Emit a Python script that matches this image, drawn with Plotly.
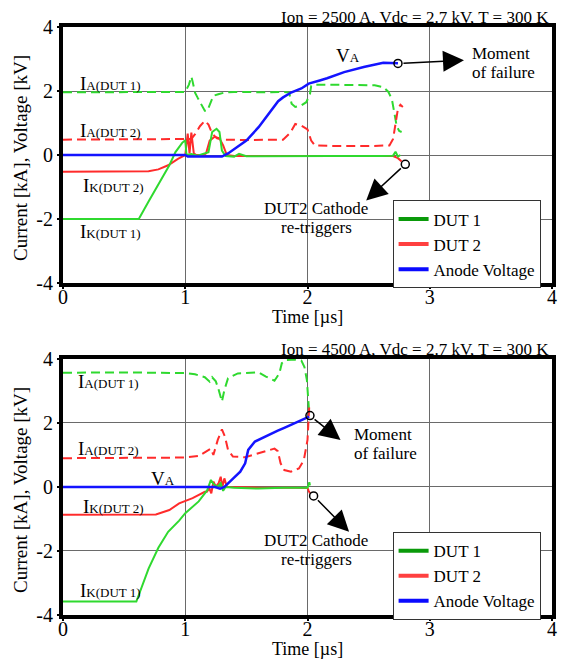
import plotly.graph_objects as go

# ---------------- data: top panel (Ion = 2500 A) ----------------
t_ia1_x = [0, 0.3, 0.6, 0.9, 1.0, 1.03, 1.05, 1.06, 1.08, 1.1, 1.13, 1.16, 1.18, 1.2, 1.23, 1.27, 1.32, 1.4, 1.5,
           1.6, 1.7, 1.8, 1.85, 1.87, 1.9, 1.95, 1.99, 2.02, 2.03, 2.05, 2.2, 2.4, 2.55, 2.62, 2.66, 2.69, 2.71,
           2.73, 2.75, 2.77]
t_ia1_y = [1.96, 1.97, 1.96, 1.97, 1.97, 2.2, 2.45, 2.3, 1.95, 1.8, 1.6, 1.38, 1.38, 1.55, 1.85, 1.9, 1.95, 1.97,
           1.96, 1.97, 1.96, 1.97, 1.95, 1.6, 1.5, 1.55, 1.65, 1.9, 2.15, 2.2, 2.2, 2.2, 2.18, 2.12, 1.98, 1.75,
           1.3, 0.9, 0.75, 0.72]

t_ia2_x = [0, 0.5, 1.0, 1.05, 1.08, 1.12, 1.16, 1.19, 1.22, 1.26, 1.3, 1.5, 1.8, 1.86, 1.9, 1.95, 2.0, 2.03,
           2.06, 2.2, 2.5, 2.67, 2.7, 2.72, 2.74, 2.76, 2.78]
t_ia2_y = [0.48, 0.48, 0.48, 0.5, 0.65, 0.9, 1.07, 0.95, 0.67, 0.52, 0.48, 0.47, 0.48, 0.7, 0.97, 0.92, 0.8,
           0.45, 0.3, 0.28, 0.28, 0.3, 0.5, 1.0, 1.45, 1.57, 1.5]

t_ik2_x = [0, 0.4, 0.7, 0.78, 0.86, 0.94, 1.0, 1.02, 1.035, 1.05, 1.07, 1.09, 1.15, 1.17, 1.2, 1.24, 1.28, 1.31,
           1.34, 1.4, 1.8, 2.2, 2.6, 2.7, 2.74, 2.77]
t_ik2_y = [-0.52, -0.52, -0.51, -0.45, -0.32, -0.12, 0.0, 0.67, 0.05, 0.7, 0.05, 0.0, 0.0, 0.05, 0.45, 0.57,
           0.52, 0.3, 0.0, -0.03, -0.03, -0.03, -0.03, -0.03, -0.1, -0.2]

t_ik1_x = [0, 0.3, 0.62, 0.7, 0.79, 0.87, 0.92, 0.975, 1.0, 1.01, 1.05, 1.1, 1.19, 1.22, 1.256, 1.28, 1.3, 1.33,
           1.4, 1.44, 1.5, 1.8, 2.2, 2.6, 2.7, 2.72, 2.74, 2.76]
t_ik1_y = [-2.0, -2.0, -2.0, -1.45, -0.84, -0.32, 0.09, 0.38, 0.46, 0.0, 0.03, -0.02, 0.09, 0.72, 0.82, 0.72,
           0.14, -0.03, -0.05, 0.04, -0.04, -0.03, -0.03, -0.03, -0.02, 0.1, -0.05, 0.0]

t_va_x = [0, 1.0, 1.02, 1.3, 1.35, 1.41, 1.5, 1.6, 1.7, 1.76, 1.8, 1.87, 1.95, 2.01, 2.1, 2.16, 2.3, 2.46, 2.62,
          2.71, 2.74]
t_va_y = [0, 0, -0.05, -0.05, 0.05, 0.2, 0.45, 0.87, 1.38, 1.68, 1.8, 1.96, 2.08, 2.23, 2.33, 2.4, 2.59, 2.75,
          2.88, 2.89, 2.87]

t_mark_x = [2.74, 2.80]
t_mark_y = [2.86, -0.29]
t_head_x = [3.28, 2.48]
t_head_y = [2.96, -1.42]

# ---------------- data: bottom panel (Ion = 4500 A) ----------------
b_ia1_x = [0, 0.5, 1.0, 1.08, 1.16, 1.2, 1.22, 1.25, 1.27, 1.3, 1.32, 1.35, 1.43, 1.6, 1.66, 1.73, 1.77, 1.79,
           1.825, 1.9, 1.95, 1.975, 1.995, 2.008, 2.015]
b_ia1_y = [3.57, 3.58, 3.56, 3.52, 3.43, 3.29, 3.43, 3.3, 3.08, 2.67, 3.03, 3.4, 3.55, 3.58, 3.45, 3.32, 3.55,
           3.87, 3.97, 3.98, 3.95, 3.75, 3.34, 2.72, 2.25]

b_ia2_x = [0, 0.5, 1.0, 1.11, 1.19, 1.21, 1.23, 1.266, 1.3, 1.325, 1.35, 1.39, 1.49, 1.6, 1.73, 1.757, 1.78,
           1.81, 1.865, 1.93, 1.97, 2.0, 2.008, 2.014]
b_ia2_y = [0.9, 0.9, 0.92, 0.97, 1.16, 1.2, 1.0, 1.47, 1.8, 1.57, 1.16, 0.95, 0.93, 1.05, 1.2, 1.12, 0.74, 0.53,
           0.48, 0.58, 0.84, 1.47, 2.1, 2.5]

b_ik2_x = [0, 0.4, 0.76, 0.87, 0.95, 1.06, 1.16, 1.177, 1.197, 1.213, 1.231, 1.25, 1.272, 1.29, 1.304, 1.32,
           1.34, 1.36, 1.6, 1.9, 2.0, 2.01, 2.02]
b_ik2_y = [-0.87, -0.87, -0.86, -0.72, -0.51, -0.35, -0.15, -0.15, -0.04, -0.2, 0.17, 0.01, 0.11, 0.32, 0.01,
           0.27, 0.01, 0.0, -0.02, -0.02, -0.03, -0.12, -0.2]

b_ik1_x = [0, 0.3, 0.6, 0.7, 0.78, 0.86, 0.95, 1.0, 1.11, 1.18, 1.21, 1.23, 1.26, 1.29, 1.31, 1.33, 1.4, 1.6,
           1.8, 2.0, 2.015, 2.02]
b_ik1_y = [-3.58, -3.58, -3.58, -2.55, -1.9, -1.4, -1.05, -0.82, -0.45, -0.1, 0.22, 0.1, 0.0, 0.12, -0.12, 0.0,
           -0.02, -0.05, -0.02, -0.02, 0.15, 0.05]

b_va_x = [0, 1.0, 1.245, 1.285, 1.32, 1.38, 1.45, 1.49, 1.515, 1.57, 1.68, 1.757, 1.81, 1.89, 1.97, 2.014]
b_va_y = [0, 0, 0, -0.05, 0.0, 0.22, 0.48, 0.74, 1.16, 1.42, 1.63, 1.76, 1.85, 1.99, 2.12, 2.2]

b_mark_x = [2.02, 2.05]
b_mark_y = [2.23, -0.28]
b_head_x = [2.27, 2.34]
b_head_y = [1.47, -1.40]

x_ticks = [0, 1, 2, 3, 4]
x_tick_text = ["0", "1", "2", "3", "4"]
y_ticks = [-4, -2, 0, 2, 4]
y_tick_text = ["-4", "-2", "0", "2", "4"]
titles = ["Ion = 2500 A, Vdc = 2.7 kV, T = 300 K", "Ion = 4500 A, Vdc = 2.7 kV, T = 300 K"]
legend_names = ["DUT 1", "DUT 2", "Anode Voltage"]

# ---------------- styling ----------------
FONT = "Liberation Serif, Times New Roman, serif"
GREEN = "#2fd92f"
RED = "#ff2b2b"
BLUE = "#1414ff"
LEG_COLORS = ["#0a9a0a", "#ff4040", "#0a0aff"]
DASH = "9px,5px"

fig = go.Figure()


def add_panel(xa, ya, ia1, ia2, ik2, ik1, va, marks, legend_id):
    fig.add_trace(go.Scatter(x=ia1[0], y=ia1[1], xaxis=xa, yaxis=ya, mode="lines",
                             line=dict(color=GREEN, width=2, dash=DASH), showlegend=False))
    fig.add_trace(go.Scatter(x=ia2[0], y=ia2[1], xaxis=xa, yaxis=ya, mode="lines",
                             line=dict(color=RED, width=2, dash=DASH), showlegend=False))
    fig.add_trace(go.Scatter(x=ik2[0], y=ik2[1], xaxis=xa, yaxis=ya, mode="lines",
                             line=dict(color=RED, width=2), showlegend=False))
    fig.add_trace(go.Scatter(x=ik1[0], y=ik1[1], xaxis=xa, yaxis=ya, mode="lines",
                             line=dict(color=GREEN, width=2), showlegend=False))
    fig.add_trace(go.Scatter(x=va[0], y=va[1], xaxis=xa, yaxis=ya, mode="lines",
                             line=dict(color=BLUE, width=2.5), showlegend=False))
    fig.add_trace(go.Scatter(x=marks[0], y=marks[1], xaxis=xa, yaxis=ya, mode="markers",
                             marker=dict(symbol="circle-open", size=8, color="black",
                                         line=dict(width=1.5, color="black")),
                             showlegend=False))
    for name, col in zip(legend_names, LEG_COLORS):
        fig.add_trace(go.Scatter(x=[None], y=[None], xaxis=xa, yaxis=ya, mode="lines",
                                 line=dict(color=col, width=4), name=name, legend=legend_id))


add_panel("x", "y", (t_ia1_x, t_ia1_y), (t_ia2_x, t_ia2_y), (t_ik2_x, t_ik2_y), (t_ik1_x, t_ik1_y),
          (t_va_x, t_va_y), (t_mark_x, t_mark_y), "legend")
add_panel("x2", "y2", (b_ia1_x, b_ia1_y), (b_ia2_x, b_ia2_y), (b_ik2_x, b_ik2_y), (b_ik1_x, b_ik1_y),
          (b_va_x, b_va_y), (b_mark_x, b_mark_y), "legend2")

axis_common = dict(
    showline=True, linewidth=4, linecolor="black", mirror=True,
    showgrid=True, gridcolor="#6a6a6a", gridwidth=1, zeroline=False,
    ticks="outside", ticklen=2, tickwidth=2, tickcolor="black",
    tickfont=dict(family=FONT, size=20, color="black"),
    ticklabeloverflow="allow",
)

TOP_DOM = [0.5646, 1.0]
BOT_DOM = [0.0, 0.4354]

fig.update_layout(
    width=563, height=659,
    margin=dict(l=63, r=6, t=27, b=44),
    paper_bgcolor="white", plot_bgcolor="white",
    font=dict(family=FONT, color="black"),
    xaxis=dict(domain=[0, 1], anchor="y", range=[0, 4], tickvals=x_ticks, ticktext=x_tick_text,
               ticklabelstandoff=-9, **axis_common),
    yaxis=dict(domain=TOP_DOM, anchor="x", range=[-4, 4], tickvals=y_ticks, ticktext=y_tick_text, **axis_common),
    xaxis2=dict(domain=[0, 1], anchor="y2", range=[0, 4], tickvals=x_ticks, ticktext=x_tick_text,
                ticklabelstandoff=-9, **axis_common),
    yaxis2=dict(domain=BOT_DOM, anchor="x2", range=[-4, 4], tickvals=y_ticks, ticktext=y_tick_text,
                **axis_common),
    legend=dict(x=0.674, y=0.705, xanchor="left", yanchor="top",
                bgcolor="white", bordercolor="#333333", borderwidth=1,
                font=dict(family=FONT, size=17, color="black"), tracegroupgap=0),
    legend2=dict(x=0.674, y=0.141, xanchor="left", yanchor="top",
                 bgcolor="white", bordercolor="#333333", borderwidth=1,
                 font=dict(family=FONT, size=17, color="black"), tracegroupgap=0),
)

SUB = "<span style='font-size:13px'>{}</span>"
ann = []


def lab(xr, yr, x, y, text, size=19, xanchor="left"):
    ann.append(dict(xref=xr, yref=yr, x=x, y=y, text=text, showarrow=False,
                    xanchor=xanchor, yanchor="middle",
                    font=dict(family=FONT, size=size, color="black")))


# top panel labels
lab("x", "y", 0.12, 2.24, "I" + SUB.format("A(DUT 1)"))
lab("x", "y", 0.12, 0.77, "I" + SUB.format("A(DUT 2)"))
lab("x", "y", 0.15, -0.95, "I" + SUB.format("K(DUT 2)"))
lab("x", "y", 0.12, -2.38, "I" + SUB.format("K(DUT 1)"))
lab("x", "y", 2.33, 3.11, "V" + SUB.format("A"), xanchor="center")
lab("x", "y", 3.33, 3.17, "Moment", size=17)
lab("x", "y", 3.33, 2.59, "of failure", size=17)
lab("x", "y", 2.07, -1.68, "DUT2 Cathode", size=17, xanchor="center")
lab("x", "y", 2.07, -2.28, "re-triggers", size=17, xanchor="center")

# bottom panel labels
lab("x2", "y2", 0.11, 3.29, "I" + SUB.format("A(DUT 1)"))
lab("x2", "y2", 0.11, 1.21, "I" + SUB.format("A(DUT 2)"))
lab("x2", "y2", 0.815, 0.27, "V" + SUB.format("A"), xanchor="center")
lab("x2", "y2", 0.145, -0.62, "I" + SUB.format("K(DUT 2)"))
lab("x2", "y2", 0.12, -3.22, "I" + SUB.format("K(DUT 1)"))
lab("x2", "y2", 2.36, 1.63, "Moment", size=17)
lab("x2", "y2", 2.36, 1.05, "of failure", size=17)
lab("x2", "y2", 2.07, -1.68, "DUT2 Cathode", size=17, xanchor="center")
lab("x2", "y2", 2.07, -2.28, "re-triggers", size=17, xanchor="center")

# arrows
for xr, yr, mx, my, hx, hy in [("x", "y", t_mark_x, t_mark_y, t_head_x, t_head_y),
                               ("x2", "y2", b_mark_x, b_mark_y, b_head_x, b_head_y)]:
    for i in range(2):
        ann.append(dict(xref=xr, yref=yr, axref=xr, ayref=yr, x=hx[i], y=hy[i], ax=mx[i], ay=my[i],
                        text="", showarrow=True, arrowhead=2, arrowsize=2.8, arrowwidth=1.5,
                        arrowcolor="black", startstandoff=4, standoff=0))

# panel titles
ann.append(dict(xref="paper", yref="paper", x=0.997, y=1.016, text=titles[0], showarrow=False,
                xanchor="right", yanchor="middle", font=dict(family=FONT, size=17, color="black")))
ann.append(dict(xref="paper", yref="paper", x=0.997, y=0.452, text=titles[1], showarrow=False,
                xanchor="right", yanchor="middle", font=dict(family=FONT, size=17, color="black")))

# axis titles
for xd, yd in [("x domain", "y domain"), ("x2 domain", "y2 domain")]:
    ann.append(dict(xref=xd, yref=yd, x=0.5, y=-0.133, text="Time [µs]", showarrow=False,
                    xanchor="center", yanchor="middle", font=dict(family=FONT, size=18, color="black")))
    ann.append(dict(xref="paper", yref=yd, x=-0.087, y=0.49, text="Current [kA], Voltage [kV]",
                    showarrow=False, textangle=-90, xanchor="center", yanchor="middle",
                    font=dict(family=FONT, size=19, color="black")))

fig.update_layout(annotations=ann)
fig.write_html("out.html", config={"displayModeBar": False},
               post_script="document.body.style.margin='0';document.body.style.overflow='hidden';")
